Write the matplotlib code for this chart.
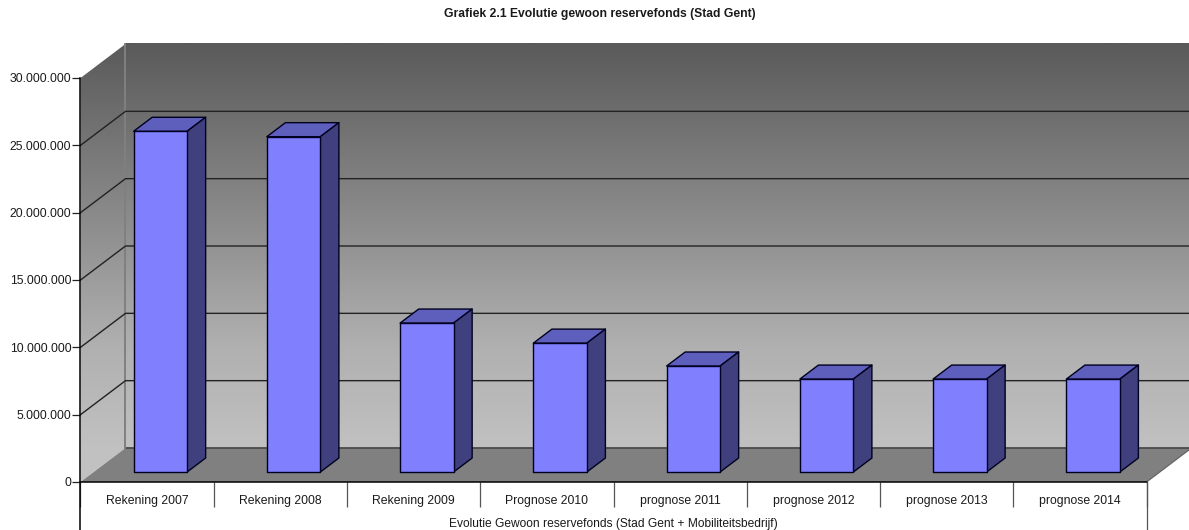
import numpy as np
import matplotlib
matplotlib.use("Agg")
import matplotlib.pyplot as plt
from matplotlib.colors import LinearSegmentedColormap
from matplotlib.patches import Polygon

plt.rcParams['font.family'] = ['Liberation Sans', 'DejaVu Sans']

categories = ["Rekening 2007", "Rekening 2008", "Rekening 2009", "Prognose 2010",
              "prognose 2011", "prognose 2012", "prognose 2013", "prognose 2014"]
values = [25300000, 24900000, 11060000, 9570000, 7870000, 6900000, 6900000, 6900000]
y_ticks = [0, 5000000, 10000000, 15000000, 20000000, 25000000, 30000000]
title = "Grafiek 2.1 Evolutie gewoon reservefonds (Stad Gent)"
xlabel = "Evolutie Gewoon reservefonds (Stad Gent + Mobiliteitsbedrijf)"

W, H = 1189, 530
L, R, B, T = 80.5, 1146.5, 482, 78
fig = plt.figure(figsize=(W / 100, H / 100), dpi=100, facecolor="white")
ax = fig.add_axes([L / W, 1 - B / H, (R - L) / W, (B - T) / H])
ax.set_xlim(0, len(categories))
ax.set_ylim(0, y_ticks[-1])
ax.patch.set_visible(False)

# depth vector, expressed in data units
DX = 45 / ((R - L) / len(categories))
DY = 34 / ((B - T) / y_ticks[-1])
xmax, ymax = len(categories), y_ticks[-1]


def p(x, v, d):
    return (x + d * DX, v + d * DY)


cmap = LinearSegmentedColormap.from_list(
    "wall", [(0, "#5a5a5a"), (0.5, "#939393"), (0.75, "#b0b0b0"), (1, "#c1c1c1")])
grad = np.linspace(0, 1, 256).reshape(-1, 1)
side_grad = np.clip(np.linspace(0, (ymax + DY) / ymax, 256), 0, 1).reshape(-1, 1)

# back wall
ax.imshow(grad, cmap=cmap, aspect="auto", vmin=0, vmax=1, zorder=1, clip_on=False,
          extent=(DX, xmax + DX, DY, ymax + DY), origin="upper")
# side wall
side = ax.imshow(side_grad, cmap=cmap, aspect="auto", vmin=0, vmax=1, zorder=1,
                 extent=(0, DX, 0, ymax + DY), origin="upper")
side_poly = Polygon([p(0, 0, 0), p(0, 0, 1), p(0, ymax, 1), p(0, ymax, 0)],
                    transform=ax.transData, fc="none", ec="none", clip_on=False)
ax.add_patch(side_poly)
side.set_clip_box(fig.bbox)
side.set_clip_path(side_poly)
ax.set_xlim(0, xmax)
ax.set_ylim(0, ymax)

# floor
ax.add_patch(Polygon([p(0, 0, 0), p(xmax, 0, 0), p(xmax, 0, 1), p(0, 0, 1)],
                     fc="#808080", ec="none", zorder=2, clip_on=False))
ax.plot(*zip(p(0, 0, 1), p(xmax, 0, 1)), color="#4a4a4a", lw=1.3, zorder=2.5, clip_on=False)
ax.plot(*zip(p(xmax, 0, 0), p(xmax, 0, 1)), color="#666666", lw=0.9, zorder=2.5, clip_on=False)
ax.plot(*zip(p(0, 0, 1), p(0, ymax, 1)), color="#808080", lw=1.4, zorder=2.5, clip_on=False)

# grid lines
for v in y_ticks[1:-1]:
    ax.plot(*zip(p(0, v, 0), p(0, v, 1), p(xmax, v, 1)), color="#222222", lw=1.0,
            zorder=3, clip_on=False)

# bars
d0, d1 = 0.294, 0.706
bw = 53.5 / ((R - L) / len(categories))
for i, v in enumerate(values):
    x0 = i + 0.5 - bw / 2
    x1 = x0 + bw
    style = dict(ec="#000020", lw=1.0, zorder=5 + i, clip_on=False, joinstyle="round")
    ax.add_patch(Polygon([p(x0, v, d0), p(x1, v, d0), p(x1, v, d1), p(x0, v, d1)],
                         fc="#5e5ebc", **style))
    ax.add_patch(Polygon([p(x1, 0, d0), p(x1, v, d0), p(x1, v, d1), p(x1, 0, d1)],
                         fc="#40407f", **style))
    ax.add_patch(Polygon([p(x0, 0, d0), p(x1, 0, d0), p(x1, v, d0), p(x0, v, d0)],
                         fc="#8080ff", **style))

# axes, ticks and category table
for s in ("top", "right", "bottom", "left"):
    ax.spines[s].set_visible(False)
ax.set_yticks(y_ticks)
ax.set_yticklabels([f"{v:,}".replace(",", ".") for v in y_ticks], fontsize=8.8, color="#1a1a1a")
ax.tick_params(axis="y", length=6.0, width=0.9, pad=0.6, color="#222222")
ax.set_xticks(np.arange(len(categories) + 1))
ax.set_xticklabels([])
ax.tick_params(axis="x", which="major", length=18, width=0.9, color="#555555")
ax.set_xticks(np.arange(len(categories)) + 0.5, minor=True)
ax.set_xticklabels(categories, minor=True, fontsize=8.8, color="#1a1a1a")
ax.tick_params(axis="x", which="minor", length=0, pad=9.5)

bottom = -(H - B) / ((B - T) / ymax)
ax.plot([0, 0], [bottom, ymax], color="black", lw=1.1, zorder=4, clip_on=False)
ax.plot([0, xmax], [0, 0], color="black", lw=1.1, zorder=4, clip_on=False)
ax.plot([xmax, xmax], [bottom, 0], color="#555555", lw=0.9, zorder=4, clip_on=False)

fig.text(613.5 / W, 1 - 523.5 / H, xlabel, ha="center", va="center", fontsize=8.68, color="#1a1a1a")
fig.text(600 / W, 1 - 14.5 / H, title, ha="center", va="center", fontsize=8.75, fontweight="bold", color="#1a1a1a")

fig.savefig("out.png", dpi=100, facecolor="white")
